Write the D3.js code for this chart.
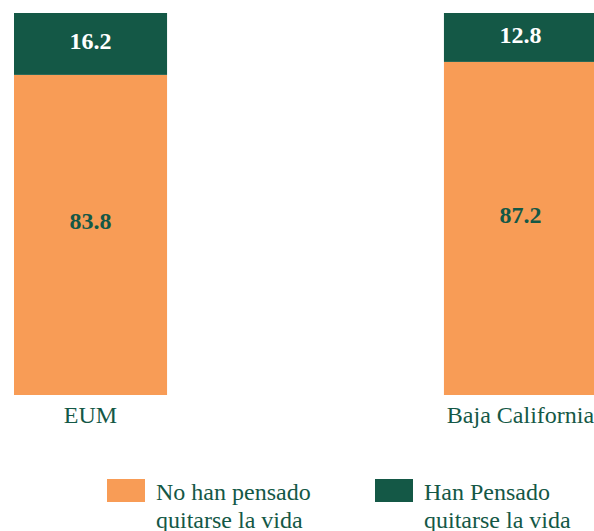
<!DOCTYPE html>
<html>
<head>
<meta charset="utf-8">
<script src="https://cdn.jsdelivr.net/npm/d3@7"></script>
<style>
html,body{margin:0;padding:0;background:#fff;}
svg{display:block;}
svg text{font-family:"Liberation Serif", "DejaVu Serif", serif;}
</style>
</head>
<body>
<svg id="chart" width="594" height="531"></svg>
<script>
const categories = ["EUM", "Baja California"];
const noHanPensado = [83.8, 87.2];
const hanPensado = [16.2, 12.8];
const seriesNames = [["No han pensado", "quitarse la vida"], ["Han Pensado", "quitarse la vida"]];

const orange = "#F89C56";
const green = "#145846";

const svg = d3.select("#chart");
const x = d3.scaleBand().domain(categories).range([14, 597]).paddingInner(0.644).paddingOuter(0);
const y = d3.scaleLinear().domain([0, 100]).range([395, 13]);

const data = categories.map((c, i) => ({cat: c, a: noHanPensado[i], b: hanPensado[i]}));

const g = svg.append("g");
g.selectAll("rect.a").data(data).join("rect")
  .attr("x", d => x(d.cat)).attr("width", x.bandwidth())
  .attr("y", d => y(d.a)).attr("height", d => y(0) - y(d.a))
  .attr("fill", orange);
g.selectAll("rect.b").data(data).join("rect")
  .attr("x", d => x(d.cat)).attr("width", x.bandwidth())
  .attr("y", d => y(d.a + d.b)).attr("height", d => y(d.a) - y(d.a + d.b))
  .attr("fill", green);

g.selectAll("text.va").data(data).join("text")
  .attr("x", d => x(d.cat) + x.bandwidth() / 2)
  .attr("y", d => y(d.a / 2) - 5.5)
  .attr("text-anchor", "middle")
  .style("font-weight", "bold").style("font-size", "24px")
  .attr("fill", green)
  .text(d => d.a.toFixed(1));
g.selectAll("text.vb").data(data).join("text")
  .attr("x", d => x(d.cat) + x.bandwidth() / 2)
  .attr("y", d => y(d.a + d.b / 2) + 5.5)
  .attr("text-anchor", "middle")
  .style("font-weight", "bold").style("font-size", "24px")
  .attr("fill", "#ffffff")
  .text(d => d.b.toFixed(1));

const xAxis = d3.axisBottom(x).tickSize(0).tickPadding(0);
const ax = svg.append("g").attr("transform", "translate(0,405)").call(xAxis);
ax.attr("font-family", null).attr("font-size", null);
ax.select(".domain").remove();
ax.selectAll("text")
  .style("font-size", "24px").attr("fill", green)
  .attr("dy", null).attr("y", 18);

const legendX = [107, 375];
const colors = [orange, green];
const lg = svg.append("g");
seriesNames.forEach((lines, i) => {
  lg.append("rect").attr("x", legendX[i]).attr("y", 479).attr("width", 38).attr("height", 23).attr("fill", colors[i]);
  const t = lg.append("text").style("font-size", "24px").attr("fill", green);
  lines.forEach((ln, j) => {
    t.append("tspan").attr("x", legendX[i] + 49).attr("y", 500 + j * 27.5).text(ln);
  });
});
</script>
</body>
</html>
